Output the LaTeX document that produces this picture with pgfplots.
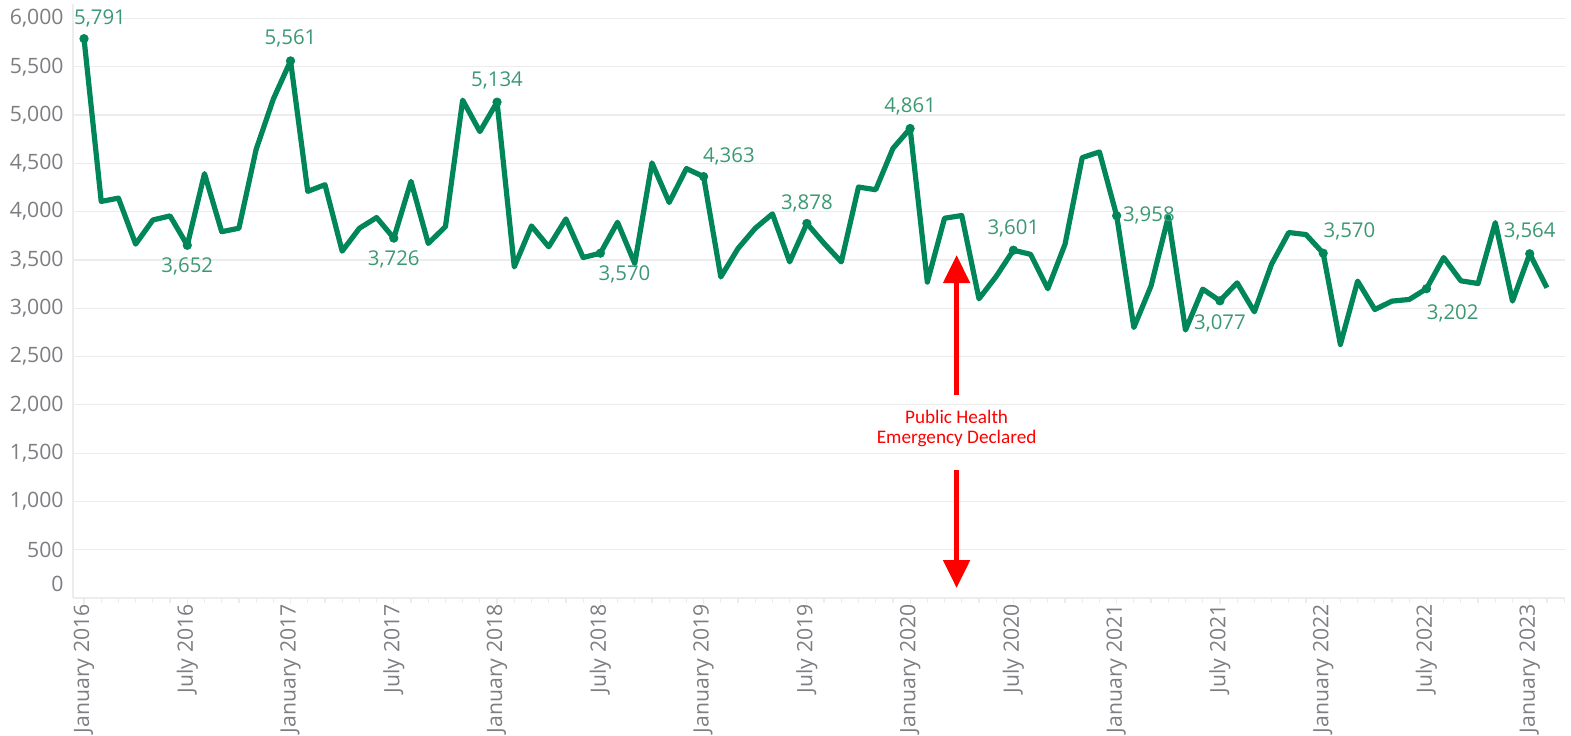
\documentclass[border=0pt]{standalone}
\usepackage{fontspec}
\setmainfont{Open Sans}
\newfontfamily\carlito{Carlito}
\usepackage{pgfplots}
\pgfplotsset{compat=1.18}
\usepackage{pgfplotstable}
\usetikzlibrary{arrows.meta}
\definecolor{linegreen}{RGB}{0,134,88}
\definecolor{lblgreen}{RGB}{60,152,116}
\definecolor{tickgray}{RGB}{125,125,130}
\definecolor{gridgray}{RGB}{236,236,236}

\pgfplotstableread{
idx val
0 5791
1 4106
2 4140
3 3664
4 3914
5 3956
6 3652
7 4394
8 3793
9 3828
10 4644
11 5166
12 5561
13 4210
14 4279
15 3591
16 3828
17 3939
18 3726
19 4314
20 3671
21 3845
22 5155
23 4829
24 5134
25 3428
26 3852
27 3636
28 3925
29 3525
30 3570
31 3890
32 3463
33 4505
34 4095
35 4446
36 4363
37 3324
38 3619
39 3828
40 3977
41 3480
42 3878
43 3671
44 3480
45 4255
46 4227
47 4655
48 4861
49 3271
50 3932
51 3960
52 3098
53 3330
54 3601
55 3558
56 3202
57 3663
58 4560
59 4618
60 3958
61 2801
62 3232
63 3946
64 2774
65 3198
66 3077
67 3263
68 2963
69 3456
70 3784
71 3763
72 3570
73 2625
74 3281
75 2987
76 3074
77 3091
78 3202
79 3525
80 3284
81 3256
82 3887
83 3074
84 3564
85 3212
}\monthly

\pgfplotstableread{
idx val
0 5791
6 3652
12 5561
18 3726
24 5134
30 3570
36 4363
42 3878
48 4861
54 3601
60 3958
66 3077
72 3570
78 3202
84 3564
}\labeled

\begin{document}
\begin{tikzpicture}
\begin{axis}[
  scale only axis,
  width=746pt, height=297pt,
  xmin=-0.64, xmax=86.05,
  ymin=0, ymax=6150,
  clip=false,
  axis x line*=bottom,
  axis y line*=left,
  axis line style={draw=gridgray, line width=0.6pt},
  ytick={500,1000,...,6000},
  extra y ticks={0},
  extra y tick style={yticklabel style={yshift=7pt}, grid=none},
  ymajorgrids,
  grid style={draw=gridgray, line width=0.6pt},
  y tick style={draw=none},
  yticklabel style={font=\fontsize{10.6}{12}\selectfont, text=tickgray, inner sep=0pt, xshift=-1.5pt},
  /pgf/number format/assume math mode=true,
  /pgf/number format/1000 sep={,},
  xtick={0,6,...,84},
  xticklabels={January 2016,July 2016,January 2017,July 2017,January 2018,July 2018,January 2019,July 2019,January 2020,July 2020,January 2021,July 2021,January 2022,July 2022,January 2023},
  minor xtick={0,1,...,86},
  tick align=outside,
  major tick length=3pt,
  minor tick length=2.5pt,
  x tick style={draw=gridgray, line width=0.6pt},
  xticklabel style={font=\fontsize{10.6}{12}\selectfont, text=tickgray, rotate=90, anchor=east, inner sep=0pt},
]
\addplot[linegreen, line width=2.6pt, line join=round, mark=none] table[x=idx, y=val]{\monthly};
\addplot[only marks, mark=*, mark size=2.1pt, color=linegreen] table[x=idx, y=val]{\labeled};

% data labels
\begin{scope}[every node/.style={font=\fontsize{10.2}{12}\selectfont, text=lblgreen, inner sep=0pt}]
\node[anchor=base, xshift=8pt, yshift=7pt] at (axis cs:0,5791) {5,791};
\node[anchor=north, yshift=-6pt] at (axis cs:6,3652) {3,652};
\node[anchor=base, yshift=8pt] at (axis cs:12,5561) {5,561};
\node[anchor=north, yshift=-6pt] at (axis cs:18,3726) {3,726};
\node[anchor=base, yshift=8pt] at (axis cs:24,5134) {5,134};
\node[anchor=north west, xshift=-1pt, yshift=-6pt] at (axis cs:30,3570) {3,570};
\node[anchor=base west, xshift=-0.5pt, yshift=7pt] at (axis cs:36,4363) {4,363};
\node[anchor=base, yshift=7pt] at (axis cs:42,3878) {3,878};
\node[anchor=base, yshift=8pt] at (axis cs:48,4861) {4,861};
\node[anchor=base, yshift=8pt] at (axis cs:54,3601) {3,601};
\node[anchor=west, xshift=3pt] at (axis cs:60,3958) {3,958};
\node[anchor=north, yshift=-6.5pt] at (axis cs:66,3077) {3,077};
\node[anchor=base west, yshift=8pt] at (axis cs:72,3570) {3,570};
\node[anchor=north west, yshift=-8pt] at (axis cs:78,3202) {3,202};
\node[anchor=base, yshift=8pt] at (axis cs:84,3564) {3,564};
\end{scope}

% annotation
\draw[red, line width=2.5pt, -{Triangle[width=13pt,length=14pt]}] (axis cs:50.7,2101) -- (axis cs:50.7,3551);
\draw[red, line width=2.5pt, -{Triangle[width=13pt,length=14pt]}] (axis cs:50.7,1325) -- (axis cs:50.7,103);
\node[align=center, text=red, font=\carlito\fontsize{9.6}{10}\selectfont, inner sep=0pt] at (axis cs:50.7,1760) {Public Health\\Emergency Declared};
\end{axis}
\pgfresetboundingbox
\path ([shift={(-36.5pt,-68.5pt)}]current axis.south west) rectangle ([shift={(749pt,299pt)}]current axis.south west);
\end{tikzpicture}
\end{document}
